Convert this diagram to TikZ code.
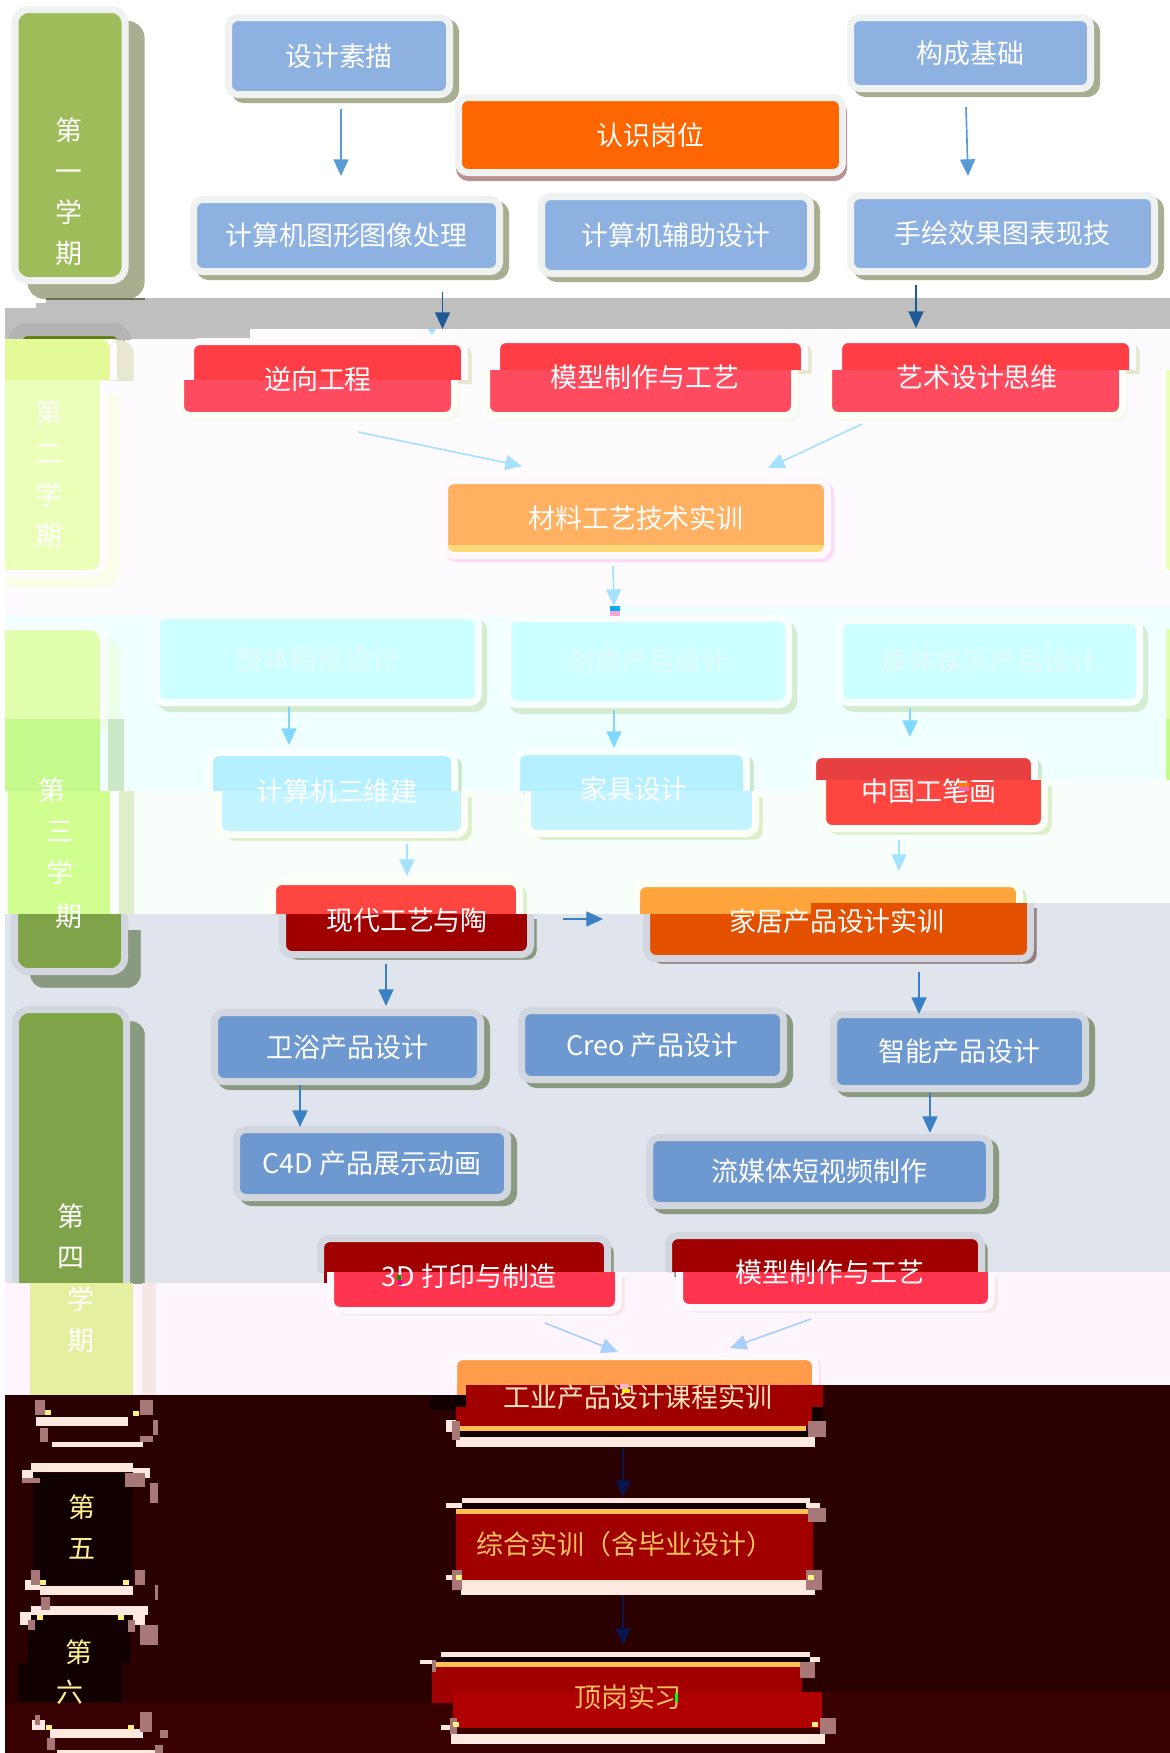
\documentclass[tikz,border=0pt]{standalone}
\usepackage{fontspec}
\setmainfont{Noto Sans CJK SC}
\usepackage{xcolor}
\usetikzlibrary{arrows.meta}
\definecolor{graybar}{HTML}{BFBFBF}
\definecolor{graydark}{HTML}{B4B4B4}
\definecolor{bandb}{HTML}{FEFBFF}
\definecolor{bandc}{HTML}{F0FFFF}
\definecolor{bandd}{HTML}{F8FFFA}
\definecolor{bande}{HTML}{E0E5ED}
\definecolor{bandf}{HTML}{FFF5FF}
\definecolor{bandg}{HTML}{2A0000}
\definecolor{bandh}{HTML}{380000}
\definecolor{sagedark}{HTML}{8A9A80}
\definecolor{sagelite}{HTML}{A8AE90}
\definecolor{sagerose}{HTML}{B89090}
\definecolor{sagemauve}{HTML}{958080}
\definecolor{sagedeep}{HTML}{6A7450}
\definecolor{framegray}{HTML}{D2D7DF}
\definecolor{framewhite}{HTML}{F0F2F2}
\definecolor{framepale}{HTML}{FBFFF6}
\definecolor{framecyan}{HTML}{F8FFFF}
\definecolor{framepink}{HTML}{FFF8FF}
\definecolor{shadecream}{HTML}{E8E8D0}
\definecolor{shadelime}{HTML}{F4FAEE}
\definecolor{shadeaqua}{HTML}{D4ECD0}
\definecolor{shadeice}{HTML}{ECFFE8}
\definecolor{shadepink}{HTML}{F5E8E4}
\definecolor{shadeorchid}{HTML}{FFD8F8}
\definecolor{skyblue}{HTML}{8DB1E0}
\definecolor{steelblue}{HTML}{6E99D0}
\definecolor{paleaqua}{HTML}{CCFFFF}
\definecolor{iceblue}{HTML}{B4F0FF}
\definecolor{icelow}{HTML}{C4F4FF}
\definecolor{pumpkin}{HTML}{FF6600}
\definecolor{amberbox}{HTML}{FFB060}
\definecolor{amberstrip}{HTML}{FFD878}
\definecolor{ambertop}{HTML}{FFA53C}
\definecolor{burntorange}{HTML}{E35000}
\definecolor{peachtop}{HTML}{FF9C4C}
\definecolor{rosered}{HTML}{FF3D45}
\definecolor{roselow}{HTML}{FF4B60}
\definecolor{brickred}{HTML}{E84040}
\definecolor{tomato}{HTML}{FF4540}
\definecolor{hotred}{HTML}{FF3550}
\definecolor{darkred}{HTML}{A00000}
\definecolor{brightdark}{HTML}{B00000}
\definecolor{termgreen}{HTML}{9EBC5A}
\definecolor{termolive}{HTML}{7FA348}
\definecolor{termmoss}{HTML}{5F7F10}
\definecolor{limeone}{HTML}{E4FA98}
\definecolor{limetwo}{HTML}{EAFFB8}
\definecolor{limethree}{HTML}{E2FFB0}
\definecolor{limefour}{HTML}{C4FA8C}
\definecolor{limefive}{HTML}{D0FF90}
\definecolor{limesix}{HTML}{E6EFA0}
\definecolor{shademid}{HTML}{CAE8C8}
\definecolor{shadelow}{HTML}{DCEFC8}
\definecolor{shadepale}{HTML}{FBFFEA}
\definecolor{palestrip}{HTML}{FFE8E0}
\definecolor{hatchpink}{HTML}{A87878}
\definecolor{goldline}{HTML}{FFC050}
\definecolor{nearblack}{HTML}{100000}
\definecolor{textorange}{HTML}{FFC060}
\definecolor{textcream}{HTML}{FFE4C0}
\definecolor{textyellow}{HTML}{FFF090}
\definecolor{textaqua}{HTML}{E2FAFA}
\definecolor{pixelyellow}{HTML}{FFF080}
\definecolor{arrowsky}{HTML}{5B9BD5}
\definecolor{arrowdeep}{HTML}{1F5A96}
\definecolor{arrowsteel}{HTML}{3A80C4}
\definecolor{arrowpale}{HTML}{A5E2FF}
\definecolor{arrowmid}{HTML}{80D8FF}
\definecolor{arrowlilac}{HTML}{A8D0FF}
\definecolor{arrownavy}{HTML}{0A1550}
\newcommand{\boxfont}{\fontsize{23}{35}\selectfont}
\newcommand{\toppiece}[5]{\filldraw[#1] (#2-3.5,#5) -- (#2-3.5,#3-3.5) -- (#4+3.5,#3-3.5) -- (#4+3.5,#5);}
\newcommand{\lowpiece}[5]{\filldraw[#1] (#2-3.5,#3) -- (#2-3.5,#5+3.5) -- (#4+3.5,#5+3.5) -- (#4+3.5,#3);}
\newcommand{\band}[7]{\fill[#1] (5,#3) -- (#2,#3) -- (#2,#4) -- (1170,#4) -- (1170,#7) -- (#5,#7) -- (#5,#6) -- (5,#6) -- cycle;}
\begin{document}
\begin{tikzpicture}[x=.03cm, y=-.03cm,
  boxsize/.style 2 args={minimum width={(#1+7)*.03cm}, minimum height={(#2+7)*.03cm}},
  unit/.style n args={5}{rectangle, rounded corners=.28cm, inner sep=0pt, text=white, font=\boxfont, align=center,
    fill=#1, draw=#2, line width=.21cm, preaction={draw=#3, fill=#3, transform canvas={shift={(#4,#5)}}}},
  skybox/.style={unit={skyblue}{framewhite}{sagelite}{6}{5}},
  steelbox/.style={unit={steelblue}{framegray}{sagedark}{6}{5}},
  aquabox/.style={unit={paleaqua}{framecyan}{shadeaqua}{5}{6}, text=textaqua},
  cut/.style n args={5}{fill=#1, draw=#2, line width=.21cm, rounded corners=.28cm,
    preaction={draw=#3, fill=#3, transform canvas={shift={(#4,#5)}}}},
  redtop/.style={cut={rosered}{bandb}{shadecream}{7}{4}},
  redlow/.style={cut={roselow}{framepale}{shadelime}{5}{5}},
  aquatop/.style={cut={iceblue}{framecyan}{shademid}{7}{4}},
  aqualow/.style={cut={icelow}{framepale}{shadelow}{7}{6}},
  claytop/.style={cut={tomato}{framepale}{shadelow}{7}{4}},
  deepcut/.style={cut={darkred}{framegray}{sagedark}{6}{5}},
  hotlow/.style={cut={hotred}{framepink}{shadepink}{6}{5}},
  textnode/.style={inner sep=0pt, text=white, font=\boxfont, align=center},
  flow/.style={-{Triangle[width=.45cm, length=.5cm]}, line width=.05cm},
  skyflow/.style={flow, draw=arrowsky, fill=arrowsky},
  deepflow/.style={flow, draw=arrowdeep, fill=arrowdeep},
  steelflow/.style={flow, draw=arrowsteel, fill=arrowsteel},
  paleflow/.style={flow, draw=arrowpale, fill=arrowpale},
  midflow/.style={flow, draw=arrowmid, fill=arrowmid},
  lilacflow/.style={flow, draw=arrowlilac, fill=arrowlilac},
  navyflow/.style={flow, draw=arrownavy, fill=arrownavy}]
  \useasboundingbox (0,0) rectangle (1170,1753);
  \fill[white] (0,0) rectangle (1170,1753);
  % scan bands
  \fill[graybar] (46,298) -- (1170,298) -- (1170,329) -- (250,329) -- (250,339) -- (5,339) -- (5,308) -- (36,308) -- (36,303) -- (46,303) -- cycle;
  \band{bandb}{250}{339}{329}{620}{616}{606}
  \band{bandc}{620}{616}{606}{811}{791}{780}
  \band{bandd}{811}{791}{780}{811}{914}{903}
  \band{bande}{811}{914}{903}{334}{1283}{1272}
  \band{bandf}{334}{1283}{1272}{466}{1395}{1385}
  \band{bandg}{466}{1395}{1385}{802}{1703}{1692}
  \band{bandh}{802}{1703}{1692}{1170}{1753}{1753}
  \fill[limetwo] (1166,370) rectangle (1170,570);
  \fill[limethree] (1166,629) rectangle (1170,719);
  \fill[limefour] (1166,719) rectangle (1170,780);

  % term columns
  \node[unit={termgreen}{framewhite}{sagelite}{16}{15}, rounded corners=.4cm, boxsize={103}{264}] (term1) at (70,145) {};
  \fill[sagedeep] (46,298) rectangle (145,300);
  \toppiece{cut={graydark}{graydark}{graydark}{0}{0}, rounded corners=.4cm}{16}{330}{124}{339}
  \toppiece{cut={termmoss}{graydark}{graydark}{0}{0}}{22}{336}{118}{339}
  \begin{scope}
    \clip (0,339) rectangle (200,380);
    \toppiece{cut={limeone}{bandb}{shadecream}{20}{5}, rounded corners=.4cm}{-10}{339}{110}{380}
  \end{scope}
  \lowpiece{cut={limetwo}{bandb}{shadepale}{15}{14}, rounded corners=.4cm}{-10}{380}{100}{570}
  \toppiece{cut={limethree}{framecyan}{shadeice}{16}{12}, rounded corners=.4cm}{-10}{630}{100}{719}
  \fill[limefour] (5,719) rectangle (100,791);
  \fill[shademid] (108,719) rectangle (124,791);
  \fill[limefive] (8,791) rectangle (110,914);
  \fill[shadelow] (119,791) rectangle (134,914);
  \lowpiece{cut={termolive}{framegray}{sagedark}{16}{16}, rounded corners=.4cm}{18}{914}{121}{968}
  \begin{scope}
    \clip (0,990) rectangle (200,1283);
    \toppiece{cut={termolive}{framegray}{sagedark}{18}{12}, rounded corners=.4cm}{19}{1013}{123}{1283}
  \end{scope}
  \fill[limesix] (30,1283) rectangle (133,1395);
  \fill[shadepink] (142,1283) rectangle (156,1395);
  \fill[nearblack] (33,1473) rectangle (133,1585);
  \fill[nearblack] (28,1615) rectangle (130,1663);
  \fill[nearblack] (18,1663) rectangle (122,1702);

  % cut boxes
  \toppiece{redtop}{194}{345}{461}{380}
  \lowpiece{redlow}{184}{380}{451}{412}
  \toppiece{redtop}{500}{343}{801}{370}
  \lowpiece{redlow}{490}{370}{791}{412}
  \toppiece{redtop}{842}{343}{1129}{370}
  \lowpiece{redlow}{832}{370}{1119}{412}
  \toppiece{aquatop}{213}{756}{451}{791}
  \lowpiece{aqualow}{222}{791}{461}{831}
  \toppiece{aquatop}{520}{755}{743}{791}
  \lowpiece{aqualow}{531}{791}{752}{830}
  \toppiece{cut={brickred}{framecyan}{shademid}{7}{4}}{816}{758}{1031}{780}
  \lowpiece{cut={tomato}{framepale}{shadelow}{7}{6}}{826}{780}{1041}{825}
  \toppiece{claytop}{276}{885}{516}{914}
  \lowpiece{deepcut}{286}{914}{527}{951}
  \toppiece{cut={ambertop}{framepale}{shadelow}{7}{4}}{640}{887}{1016}{903}
  \lowpiece{cut={burntorange}{framegray}{sagemauve}{6}{5}}{650}{903}{1027}{955}
  \fill[ambertop] (640,902) rectangle (811,914);
  \toppiece{deepcut}{324}{1242}{604}{1272}
  \fill[darkred] (324,1271) rectangle (334,1283);
  \lowpiece{hotlow}{334}{1272}{615}{1307}
  \toppiece{deepcut}{672}{1239}{978}{1272}
  \lowpiece{hotlow}{683}{1272}{988}{1304}
  \toppiece{cut={peachtop}{framepink}{shadeorchid}{5}{0}}{457}{1360}{812}{1385}
  \fill[peachtop] (457,1384) rectangle (466,1395);
  \fill[nearblack] (430,1395) rectangle (466,1410);
  \fill[darkred] (466,1385) rectangle (823,1407);
  \fill[darkred] (456,1407) rectangle (812,1426);
  \fill[goldline] (460,1426) rectangle (806,1431);
  \fill[nearblack] (812,1407) rectangle (823,1431);
  \fill[nearblack] (456,1431) rectangle (815,1437);
  \fill[nearblack] (462,1503) rectangle (810,1509);
  \fill[goldline] (456,1509) rectangle (813,1514);
  \fill[darkred] (456,1514) rectangle (813,1580);
  \fill[nearblack] (441,1657) rectangle (810,1662);
  \fill[goldline] (435,1662) rectangle (805,1667);
  \fill[darkred] (432,1667) rectangle (802,1703);
  \fill[brightdark] (453,1692) rectangle (822,1728);
  \foreach \ax/\ay/\bx/\by in {36/1417/128/1426, 52/1442/143/1447, 31/1463/133/1472, 22/1470/33/1478, 133/1468/150/1478, 40/1586/133/1595, 25/1580/40/1590, 31/1606/148/1615, 20/1612/31/1625, 133/1612/145/1625, 50/1729/143/1738, 57/1750/158/1753, 32/1720/45/1730, 456/1437/815/1447, 446/1420/456/1432, 462/1498/810/1503, 446/1503/462/1508, 806/1503/820/1508, 461/1580/815/1595, 446/1575/456/1580, 441/1652/810/1657, 420/1660/432/1664, 810/1657/820/1662, 451/1734/825/1744, 441/1725/451/1730}
    \fill[palestrip] (\ax,\ay) rectangle (\bx,\by);
  \foreach \ax/\ay/\bx/\by in {35/1400/45/1415, 140/1400/153/1415, 153/1420/158/1435, 40/1428/48/1442, 140/1436/153/1442, 22/1478/40/1483, 125/1473/145/1487, 150/1483/158/1503, 31/1570/40/1585, 135/1570/145/1585, 155/1585/158/1600, 41/1597/50/1610, 28/1620/35/1630, 128/1620/135/1632, 140/1625/158/1645, 35/1715/40/1725, 140/1712/152/1732, 160/1730/168/1738, 47/1738/55/1750, 155/1745/163/1753, 452/1421/460/1440, 808/1421/826/1437, 808/1508/826/1522, 452/1570/462/1590, 806/1570/822/1590, 432/1660/436/1672, 800/1662/815/1678, 450/1718/457/1734, 820/1718/836/1734}
    \fill[hatchpink] (\ax,\ay) rectangle (\bx,\by);
  \foreach \ax/\ay in {45/1410, 133/1411, 40/1580, 123/1580, 37/1615, 118/1615, 46/1725, 128/1725, 456/1575, 808/1575, 453/1722, 812/1722}
    \fill[pixelyellow] (\ax,\ay) rectangle +(6,5);

  % plain boxes
  \node[skybox, boxsize={214}{70}] (drawing) at (339,56) {设计素描};
  \node[skybox, boxsize={233}{64}] (basics) at (970.5,53) {构成基础};
  \node[unit={pumpkin}{framewhite}{sagerose}{1}{5}, boxsize={377}{68}] (post) at (650.5,135) {认识岗位};
  \node[skybox, boxsize={299}{65}] (graphics) at (346.5,235.5) {计算机图形图像处理};
  \node[skybox, boxsize={262}{70}] (cad) at (676,235) {计算机辅助设计};
  \node[skybox, boxsize={297}{69}] (rendering) at (1002.5,233.5) {手绘效果图表现技};
  \node[unit={amberbox}{framepink}{shadeorchid}{3}{3}, boxsize={376}{68}] (materials) at (636,518) {材料工艺技术实训};
  \lowpiece{cut={amberstrip}{framepink}{framepink}{0}{0}}{448}{545}{824}{552}
  \node[aquabox, boxsize={315}{80}] (cabinet) at (317.5,659) {整体橱柜设计};
  \node[aquabox, boxsize={274}{79}] (creative) at (648,661.5) {创意产品设计};
  \node[aquabox, boxsize={293}{75}] (wellness) at (989.5,661.5) {康体娱乐产品设计};
  \node[steelbox, boxsize={259}{62}] (bath) at (347.5,1047) {卫浴产品设计};
  \node[steelbox, boxsize={255}{62}] (creo) at (652.5,1045) {Creo 产品设计};
  \node[steelbox, boxsize={245}{67}] (smart) at (959.5,1051.5) {智能产品设计};
  \node[steelbox, boxsize={264}{61}] (cfour) at (372,1163.5) {C4D 产品展示动画};
  \node[steelbox, boxsize={333}{61}] (stream) at (819.5,1171.5) {流媒体短视频制作};

  % texts on cut boxes
  \node[textnode] (term1text) at (69,192) {第\\一\\学\\期};
  \node[textnode] (term2text) at (49,474) {第\\二\\学\\期};
  \node[textnode] (term3a) at (52,790) {第};
  \node[textnode] (term3b) at (60,853) {三\\学};
  \node[textnode] (term3c) at (69,916) {期};
  \node[textnode] (term4a) at (71,1236) {第\\四};
  \node[textnode] (term4b) at (81,1320) {学\\期};
  \node[textnode, text=textyellow] (term5) at (82,1527) {第\\五};
  \node[textnode, text=textyellow] (term6a) at (79,1652) {第};
  \node[textnode, text=textyellow] (term6b) at (70,1692) {六};
  \node[textnode] (reverse) at (318,379) {逆向工程};
  \node[textnode] (modelone) at (645,377) {模型制作与工艺};
  \node[textnode] (artdesign) at (977,377) {艺术设计思维};
  \node[textnode] (threed) at (337,791) {计算机三维建};
  \node[textnode] (furniture) at (634,789) {家具设计};
  \node[textnode] (gongbi) at (929,791) {中国工笔画};
  \node[textnode] (ceramics) at (407,920) {现代工艺与陶};
  \node[textnode] (home) at (837,921) {家居产品设计实训};
  \node[textnode] (printing) at (469,1276) {3D 打印与制造};
  \node[textnode] (modeltwo) at (830,1272) {模型制作与工艺};
  \node[textnode, text=textcream] (project) at (638,1397) {工业产品设计课程实训};
  \node[textnode, text=textorange] (synthesis) at (625,1544) {综合实训（含毕业设计）};
  \node[textnode, text=textorange] (intern) at (628,1697) {顶岗实习};

  % stray pixels
  \fill[cyan] (610,606) rectangle +(10,5);
  \fill[magenta!35!white] (610,611) rectangle +(10,5);
  \fill[orange] (959,783) rectangle +(10,4);
  \fill[magenta!60!white] (959,787) rectangle +(10,4);
  \fill[green!60!black] (397,1275) rectangle +(4,5);
  \fill[magenta] (398,1280) rectangle +(4,5);
  \fill[magenta!30!white] (620,1384) rectangle +(8,5);
  \fill[yellow] (622,1389) rectangle +(8,4);
  \fill[green] (675,1693) rectangle +(3,9);
  \fill[arrowpale] (428,329) -- (436,329) -- (432,335) -- cycle;

  % connectors
  \draw[skyflow] ([shift={(2,53)}]drawing.center) -- ([shift={(-5.5,-59.5)}]graphics.center);
  \draw[skyflow] ([shift={(-4.5,54)}]basics.center) -- ([shift={(-34.5,-57.5)}]rendering.center);
  \draw[deepflow] ([shift={(96,56.5)}]graphics.center) -- ([shift={(124.5,-50)}]reverse.center);
  \draw[deepflow] ([shift={(-86.5,51.5)}]rendering.center) -- ([shift={(-61,-49)}]artdesign.center);
  \draw[paleflow] ([shift={(40,53)}]reverse.center) -- ([shift={(-114,-52)}]materials.center);
  \draw[paleflow] ([shift={(-115,47)}]artdesign.center) -- ([shift={(132,-50)}]materials.center);
  \draw[paleflow] ([shift={(-23,48)}]materials.center) -- ([shift={(-34,-55.5)}]creative.center);
  \draw[midflow] ([shift={(-28.5,48)}]cabinet.center) -- ([shift={(-48,-46)}]threed.center);
  \draw[midflow] ([shift={(-34,48.5)}]creative.center) -- ([shift={(-20,-41)}]furniture.center);
  \draw[midflow] ([shift={(-79.5,46.5)}]wellness.center) -- ([shift={(-19,-54)}]gongbi.center);
  \draw[paleflow] ([shift={(70,53)}]threed.center) -- ([shift={(0,-44)}]ceramics.center);
  \draw[paleflow] ([shift={(-30,49)}]gongbi.center) -- ([shift={(62,-50)}]home.center);
  \draw[steelflow] ([shift={(156,-1)}]ceramics.center) -- ([shift={(-234,-2)}]home.center);
  \draw[steelflow] ([shift={(-21,44)}]ceramics.center) -- ([shift={(38.5,-41)}]bath.center);
  \draw[steelflow] ([shift={(82,51)}]home.center) -- ([shift={(-40.5,-37.5)}]smart.center);
  \draw[steelflow] ([shift={(-47.5,38)}]bath.center) -- ([shift={(-72,-36.5)}]cfour.center);
  \draw[steelflow] ([shift={(-29.5,41.5)}]smart.center) -- ([shift={(110.5,-38.5)}]stream.center);
  \draw[lilacflow] ([shift={(76,47)}]printing.center) -- ([shift={(-20,-45)}]project.center);
  \draw[lilacflow] ([shift={(-19,47)}]modeltwo.center) -- ([shift={(92,-49)}]project.center);
  \draw[navyflow] ([shift={(-15,51)}]project.center) -- ([shift={(-2,-47)}]synthesis.center);
  \draw[navyflow] ([shift={(-2,51)}]synthesis.center) -- ([shift={(-5,-52)}]intern.center);

  \fill[white] (0,0) rectangle (5,1753);
\end{tikzpicture}
\end{document}
